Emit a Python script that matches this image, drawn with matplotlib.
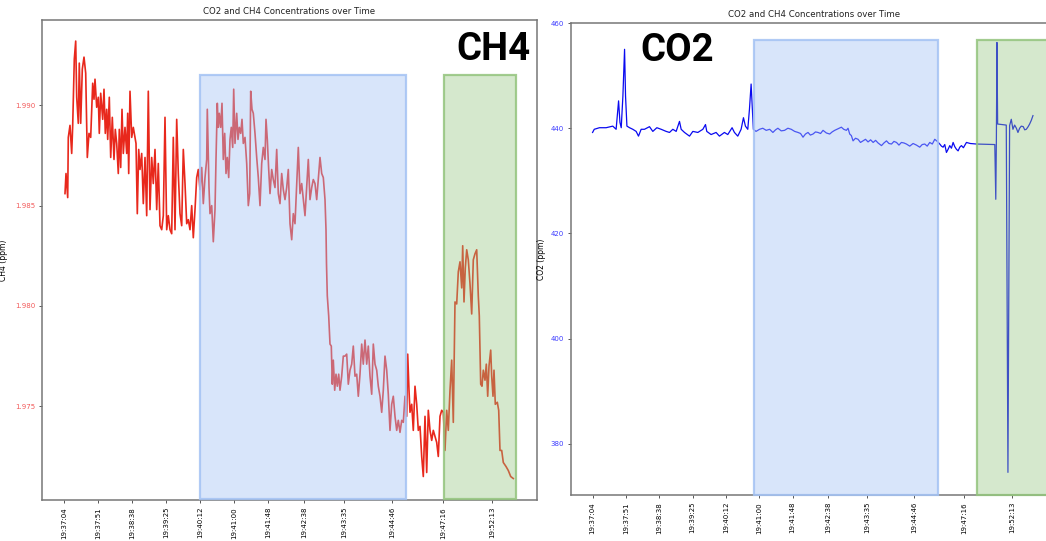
import matplotlib
matplotlib.use("Agg")
import matplotlib.pyplot as plt
from matplotlib.patches import Rectangle
from matplotlib.colors import to_rgba

W, H = 1046, 541

# x axis is the sample index, the ticks show the clock time at some samples
tick_pos = [0, 34, 68, 102, 136, 170, 204, 240, 280, 328, 379, 428]
tick_labels = ["19:37:04", "19:37:51", "19:38:38", "19:39:25", "19:40:12", "19:41:00",
               "19:41:48", "19:42:38", "19:43:35", "19:44:46", "19:47:16", "19:52:13"]

ch4_idx = [1, 2, 3.7, 4.3, 6, 7.7, 8.7, 10.3, 11.7, 12.7, 14.3, 15.3, 16.7, 18.3, 20, 21.7,
           23.3, 25, 26.7, 28.7, 30, 31, 32.7, 34.3, 35.3, 36.7, 38.7, 40, 41.3, 42.7, 43.7,
           45.3, 46.7, 48.3, 50, 51.3, 52.7, 54.3, 55.3, 56.7, 58, 59.3, 61, 62.7, 63.7, 64.7,
           66, 67.7, 69.3, 72, 73.3, 74.7, 76, 77.7, 79.3, 81, 82.7, 84.3, 86, 87.7, 89.3, 91,
           92.7, 94.3, 96, 97.7, 99.3, 101, 102.7, 104.3, 106, 107.7, 109.3, 111, 112.7, 114.3,
           116, 117.7, 119.3, 121, 122.7, 124.3, 126, 127.7, 129.3, 131, 132.7, 134.3, 136,
           137.7, 139.3, 141, 142.7, 143.3, 145, 146, 147.7, 149.3, 151, 152, 153.3, 154.3,
           155.3, 156.7, 158, 159.3, 160.7, 162, 163.3, 164.7, 166, 167.3, 168.7, 169.7, 171,
           172.7, 174, 175.3, 176.7, 178, 179.3, 181, 182.7, 184.3, 185.7, 186.7, 188, 189.3,
           191, 192.7, 194.3, 196, 197.7, 199.3, 201, 202, 203.3, 204.7, 206, 207.7, 209.3,
           211, 212.7, 214.3, 216, 217.7, 219.3, 221, 222.7, 224.3, 226, 227.7, 229.3, 231,
           232.7, 234.3, 236, 237.7, 239.3, 241, 242.7, 244.3, 246, 247.7, 249.3, 251, 252.7,
           254.3, 256, 257.7, 259.3, 261, 262, 262.5, 263.3, 264.7, 266, 267.3, 268.3, 269.3,
           270.7, 272, 273.3, 274.7, 276, 277.7, 279.3, 281, 282.7, 284.3, 286, 287.7, 289.3,
           291, 292.7, 294.3, 296, 297.7, 299.3, 301, 302.7, 304.3, 306, 307.7, 309.3, 311,
           312.7, 314.3, 316, 317.7, 319.3, 321, 322.7, 324.3, 326, 327.7, 329.3, 331, 332.7,
           334.3, 336, 337.7, 339.3, 341, 342.7, 343.7, 345, 346, 347.7, 349.3, 351, 352.7,
           354.3, 356, 357.7, 359.3, 361, 362.7, 364.3, 366, 367.7, 369.3, 371, 372.7, 374.3,
           376, 377.7, 379.3, 381, 382.7, 384.3, 386, 387.7, 389.3, 391, 392.7, 394.3, 396,
           397.7, 398.7, 400, 401.3, 402.7, 404.3, 406, 407.7, 409.3, 411, 412.7, 414.3, 415.3,
           416.7, 418, 419.3, 421, 422.3, 423.7, 425, 426.7, 427.7, 429, 430, 431.3, 433.3,
           434.7, 436, 437.7, 439.3, 442, 444.3, 446.7, 449.3]
ch4_ppm = [1.9856, 1.9866, 1.9854, 1.9884, 1.9890, 1.9876, 1.9890, 1.9923, 1.9932, 1.9904,
           1.9891, 1.9921, 1.9891, 1.9918, 1.9924, 1.9916, 1.9874, 1.9886, 1.9884, 1.9911,
           1.9903, 1.9913, 1.9899, 1.9904, 1.9886, 1.9906, 1.9893, 1.9908, 1.9886, 1.9898,
           1.9883, 1.9904, 1.9874, 1.9894, 1.9873, 1.9888, 1.9881, 1.9866, 1.9888, 1.9869,
           1.9898, 1.9876, 1.9889, 1.9876, 1.9896, 1.9866, 1.9907, 1.9884, 1.9889, 1.9881,
           1.9846, 1.9878, 1.9868, 1.9876, 1.9851, 1.9874, 1.9845, 1.9907, 1.9848, 1.9874,
           1.9861, 1.9878, 1.9848, 1.9871, 1.9840, 1.9838, 1.9845, 1.9894, 1.9838, 1.9845,
           1.9838, 1.9836, 1.9884, 1.9838, 1.9893, 1.9866, 1.9846, 1.9840, 1.9878, 1.9861,
           1.9841, 1.9843, 1.9838, 1.9850, 1.9834, 1.9848, 1.9864, 1.9868, 1.9858,
           1.9869, 1.9851, 1.9864, 1.9873, 1.9898, 1.9859, 1.9846, 1.9850, 1.9832, 1.9848,
           1.9873, 1.9901, 1.9889, 1.9896, 1.9889, 1.9901, 1.9873, 1.9886, 1.9866, 1.9874,
           1.9864, 1.9883, 1.9889, 1.9879, 1.9908, 1.9881, 1.9896, 1.9883, 1.9889, 1.9886,
           1.9893, 1.9881, 1.9884, 1.9871, 1.9850, 1.9856, 1.9907, 1.9898, 1.9896, 1.9886,
           1.9874, 1.9864, 1.9850, 1.9871, 1.9879, 1.9873, 1.9893, 1.9883, 1.9868, 1.9856,
           1.9868, 1.9863, 1.9859, 1.9878, 1.9856, 1.9851, 1.9866, 1.9858, 1.9853, 1.9859,
           1.9868, 1.9841, 1.9833, 1.9846, 1.9841, 1.9861, 1.9879, 1.9856, 1.9861, 1.9853,
           1.9845, 1.9859, 1.9873, 1.9853, 1.9859, 1.9863, 1.9861, 1.9853, 1.9863, 1.9874,
           1.9866, 1.9864, 1.9853, 1.9838, 1.9821, 1.9805, 1.9795, 1.9781, 1.9780, 1.9761,
           1.9773, 1.9758, 1.9766, 1.9760, 1.9766, 1.9758, 1.9765, 1.9775, 1.9775, 1.9776,
           1.9761, 1.9768, 1.9771, 1.9780, 1.9765, 1.9766, 1.9755, 1.9766, 1.9781, 1.9771,
           1.9783, 1.9771, 1.9780, 1.9765, 1.9756, 1.9781, 1.9771, 1.9768, 1.9760, 1.9755,
           1.9747, 1.9758, 1.9775, 1.9768, 1.9756, 1.9738, 1.9751, 1.9755, 1.9745, 1.9738,
           1.9743, 1.9737, 1.9743, 1.9742, 1.9755, 1.9745, 1.9776, 1.9758, 1.9747, 1.9751,
           1.9738, 1.9760, 1.9751, 1.9738, 1.9740, 1.9725, 1.9715, 1.9745, 1.9717, 1.9748,
           1.9738, 1.9733, 1.9738, 1.9735, 1.9732, 1.9725, 1.9745, 1.9748, 1.9747, 1.9728,
           1.9748, 1.9738, 1.9758, 1.9773, 1.9742, 1.9802, 1.9801, 1.9817, 1.9822, 1.9809,
           1.9830, 1.9802, 1.9819, 1.9828, 1.9823, 1.9811, 1.9796, 1.9823, 1.9826, 1.9828,
           1.9805, 1.9795, 1.9761, 1.9760, 1.9768, 1.9763, 1.9771, 1.9755, 1.9770, 1.9778,
           1.9765, 1.9755, 1.9768, 1.9751, 1.9752, 1.9748, 1.9728, 1.9728, 1.9722, 1.9720,
           1.9718, 1.9715, 1.9714]

co2_idx = [0, 1.7, 7, 13.8, 20.6, 24, 26.5, 27.9, 29.2, 30.9, 32.6, 33.6, 35, 37.7, 41,
           44.4, 46.8, 49.5, 52.9, 58, 61.4, 65.5, 69.9, 75, 78.4, 81.8, 85.2, 88.6, 90.3,
           93.7, 98.8, 102.2, 107.3, 112.4, 115.1, 116.4, 120.8, 125.9, 129.3, 134.4, 137.8,
           142.2, 144.6, 148, 151.4, 153.8, 155.8, 158.2, 159.9, 161.6, 162.6, 163.9, 166.6,
           170.2, 173.5, 177, 180.5, 183.8, 186.5, 188.9, 192.3, 195.7, 199.1, 202.5, 206,
           209.4, 212, 214.5, 217, 219.6, 222, 224.7, 227.2, 229.8, 232.4, 234.9, 238.3,
           241.7, 244.2, 246.8, 250.2, 253.6, 256, 258.7, 260.4, 262.1, 263.8, 265.5, 268,
           270.6, 273.1, 275.7, 278.2, 280.8, 283.4, 286, 288.5, 291, 294.5, 297, 299.6,
           302.1, 304.7, 307.2, 309.8, 312.3, 314.8, 317.4, 319.9, 323.3, 326.7, 330.1,
           333.5, 336, 338.6, 341.1, 343.7, 346.3, 348.8, 351.4, 353.9, 355.6, 357.3, 359,
           360.7, 362.4, 364.1, 365.8, 367.5, 369.2, 370.9, 372.6, 374.3, 376, 378, 381.1,
           385, 391.3, 410, 411, 411.6, 412.2, 412.9, 421.7, 423.4, 425.1, 426.8, 428.5,
           430.2, 432, 433.6, 435.3, 437, 439, 440.5, 442.1, 444, 445.5, 447.2, 448.9]
co2_ppm = [439.2, 439.8, 440.1, 440.1, 440.4, 439.8, 445.2, 441.1, 440.1, 446.1, 455.0,
           446.1, 440.4, 440.1, 439.8, 439.4, 438.5, 439.8, 439.8, 440.3, 439.4, 440.1,
           439.8, 439.4, 439.2, 439.8, 439.4, 441.3, 439.8, 439.2, 438.5, 439.4, 439.2,
           439.8, 440.7, 439.4, 438.8, 439.2, 438.5, 439.2, 438.8, 440.1, 439.2, 438.5,
           439.8, 442.0, 440.4, 439.8, 443.6, 448.4, 444.5, 439.8, 439.4,
           439.8, 440.0, 439.6, 439.8, 439.2, 439.7, 440.0, 439.5, 439.6, 440.0, 439.8,
           439.4, 439.2, 439.0, 438.3, 438.9, 439.2, 438.7, 438.9, 439.3, 439.2, 439.0,
           439.6, 439.1, 438.9, 439.3, 439.6, 439.9, 440.2, 439.8, 439.6, 440.0, 438.9,
           438.6, 437.6, 438.1, 437.9, 437.3, 437.6, 437.9, 437.4, 437.8, 437.3, 437.7,
           437.2, 436.7, 437.2, 437.6, 437.1, 437.0, 437.5, 437.3, 436.8, 437.3, 437.2,
           437.0, 436.6, 437.1, 436.8, 436.4, 436.9, 437.0, 436.6, 437.3, 437.0, 437.9,
           437.5, 437.0, 436.6, 436.4, 436.9, 435.4, 436.0, 436.7, 436.2, 437.3, 436.5,
           436.0, 435.7, 436.4, 436.7, 436.3, 437.3, 437.1, 437.0, 436.9, 426.5, 437.5,
           456.3, 440.8, 440.6, 374.6, 440.5, 441.7, 439.8, 440.6, 440.0, 439.2, 440.0,
           440.4, 440.3, 439.7, 439.8, 440.3, 440.8, 441.5, 442.4]


def px_axes(fig, left, top, width, height):
    return fig.add_axes([left / W, 1 - (top + height) / H, width / W, height / H])


def px_box(fig, left, top, right, bottom, color, alpha):
    # the coloured boxes are drawn over the screenshots, in figure pixels
    r = Rectangle((left / W, 1 - bottom / H), (right - left) / W, (bottom - top) / H,
                  transform=fig.transFigure, facecolor=to_rgba(color, alpha),
                  edgecolor=to_rgba(color, 0.85), linewidth=1.6, zorder=5)
    fig.add_artist(r)


def style_axes(ax, label_color):
    ax.set_xlim(-22, 473)
    ax.set_xticks(tick_pos)
    ax.set_xticklabels(tick_labels, rotation=90)
    ax.tick_params(labelsize=5, length=2.5, width=0.7, color="#555", pad=2.5)
    ax.tick_params(axis="y", labelcolor=label_color)
    for s in ax.spines.values():
        s.set_color("#777")
        s.set_linewidth(1.1)
    ax.set_title("CO2 and CH4 Concentrations over Time", fontsize=6.2, pad=4.5, color="#222")


fig = plt.figure(figsize=(W / 100, H / 100), dpi=100)

# left screenshot: CH4
ax1 = px_axes(fig, 42, 20, 495, 480)
ax1.plot(ch4_idx, ch4_ppm, color="#e8281c", linewidth=1.2)
ax1.set_ylim(1.97033, 1.99425)
ax1.set_yticks([1.975, 1.980, 1.985, 1.990])
ax1.set_yticklabels(["1.975", "1.980", "1.985", "1.990"])
style_axes(ax1, "#f25a5a")
ax1.set_ylabel("CH4 (ppm)", fontsize=5.5)
ax1.yaxis.set_label_coords(-0.068, 0.5)

# right screenshot: CO2 (cut off at the right edge)
ax2 = px_axes(fig, 571, 23, 485.6, 472)
ax2.plot(co2_idx, co2_ppm, color="#0a0af0", linewidth=0.9)
ax2.set_ylim(370.3, 460)
ax2.set_yticks([380, 400, 420, 440, 460])
style_axes(ax2, "#3c3cff")
ax2.set_ylabel("CO2 (ppm)", fontsize=5.5)
ax2.yaxis.set_label_coords(-0.052, 0.5)

px_box(fig, 200, 75, 406, 499, "#a4c2f4", 0.42)
px_box(fig, 444, 75, 516, 499, "#93c47d", 0.38)
px_box(fig, 754, 40, 938, 495, "#a4c2f4", 0.42)
px_box(fig, 977, 40, 1060, 495, "#93c47d", 0.38)

big = dict(fontsize=27.5, fontweight="bold", ha="center", va="center", color="black",
           family=["Roboto", "DejaVu Sans"], zorder=6)
fig.text(493 / W, 1 - 49 / H, "CH4", **big)
fig.text(677 / W, 1 - 50 / H, "CO2", **big)

fig.savefig("out.png", dpi=100)
